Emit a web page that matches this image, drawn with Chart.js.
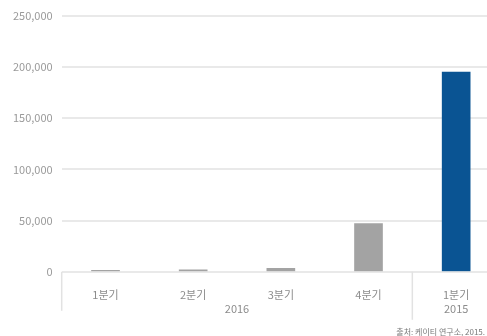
<!DOCTYPE html>
<html>
<head>
<meta charset="utf-8">
<script src="https://cdn.jsdelivr.net/npm/chart.js@4/dist/chart.umd.min.js"></script>
<style>
  html, body { margin: 0; padding: 0; background: #fff; overflow: hidden; width: 487px; height: 336px; }
  canvas { display: block; }
</style>
</head>
<body>
<canvas id="quarterChart" width="500" height="336"></canvas>
<script>
'use strict';

//***********chart data***********
let quarterLabels = ['1분기', '2분기', '3분기', '4분기', '1분기'];
let quarterValues = [1500, 2000, 3500, 47000, 195000];
let barColors = ['#a3a3a3', '#a3a3a3', '#a3a3a3', '#a3a3a3', '#0a5493'];
let yearLabels = ['2016', '2015'];
let yearSizes = [4, 1];
let yTicks = [0, 50000, 100000, 150000, 200000, 250000];
let sourceText = '출처: 케이티 연구소, 2015.';

let fontFamily = '"Noto Sans CJK KR", "Noto Sans", sans-serif';

// draws the year row under the quarter labels and the group dividers
let yearGroups = {
  id: 'yearGroups',
  afterDraw(chart) {
    let ctx = chart.ctx;
    let x = chart.scales.x;
    let bottom = chart.chartArea.bottom;
    let half = (x.getPixelForValue(1) - x.getPixelForValue(0)) / 2;
    let start = 0;
    ctx.save();
    ctx.strokeStyle = '#e2e2e2';
    ctx.lineWidth = 1.5;
    ctx.fillStyle = '#8c8c8c';
    ctx.font = '11px ' + fontFamily;
    ctx.textAlign = 'center';
    ctx.textBaseline = 'middle';
    for (let i = 0; i < yearLabels.length; i++) {
      let end = start + yearSizes[i] - 1;
      let left = x.getPixelForValue(start) - half;
      let right = x.getPixelForValue(end) + half;
      ctx.beginPath();
      ctx.moveTo(left, bottom);
      ctx.lineTo(left, bottom + (i === 0 ? 39 : 48));
      ctx.stroke();
      ctx.fillText(yearLabels[i], (left + right) / 2, bottom + 37);
      start = end + 1;
    }
    ctx.restore();
  }
};

// source note in the bottom right corner
let sourceNote = {
  id: 'sourceNote',
  afterDraw(chart) {
    let ctx = chart.ctx;
    ctx.save();
    ctx.font = '8px ' + fontFamily;
    ctx.textAlign = 'right';
    ctx.textBaseline = 'alphabetic';
    ctx.fillStyle = '#777';
    ctx.fillText(sourceText, 485, chart.chartArea.bottom + 63);
    ctx.restore();
  }
};

let myChartObj = {
  type: 'bar',
  data: {
    labels: quarterLabels,
    datasets: [{
      data: quarterValues,
      backgroundColor: barColors,
      barThickness: 28
    }]
  },
  options: {
    responsive: false,
    animation: false,
    layout: {
      padding: { top: 0, bottom: 19, left: 4, right: 0 }
    },
    plugins: {
      legend: { display: false },
      tooltip: { enabled: false }
    },
    scales: {
      x: {
        grid: { display: false, drawTicks: false },
        border: { display: false },
        ticks: {
          padding: 16,
          color: '#8c8c8c',
          font: { size: 11, family: fontFamily }
        }
      },
      y: {
        min: 0,
        max: 250000,
        afterBuildTicks: function (axis) {
          axis.ticks = yTicks.map(v => ({ value: v }));
        },
        grid: { color: '#e9e9e9', lineWidth: 2, drawTicks: false },
        border: { display: false },
        ticks: {
          padding: 9,
          color: '#9a9a9a',
          font: { size: 11, family: fontFamily },
          callback: v => v.toLocaleString('en-US')
        }
      }
    }
  },
  plugins: [yearGroups, sourceNote]
};

new Chart(document.getElementById('quarterChart'), myChartObj);
</script>
</body>
</html>
